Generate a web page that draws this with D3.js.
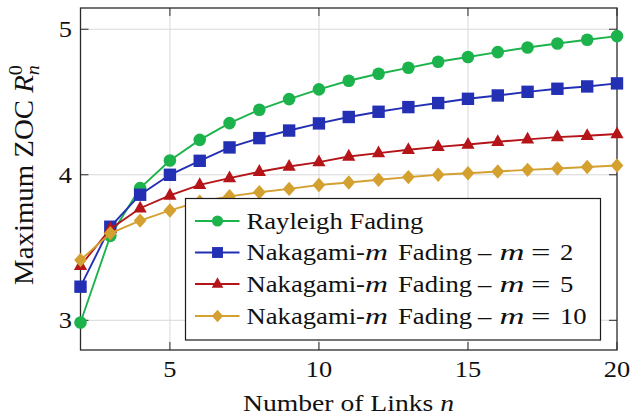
<!DOCTYPE html>
<html>
<head>
<meta charset="utf-8">
<script src="https://cdn.jsdelivr.net/npm/d3@7"></script>
<style>
  html, body { margin: 0; padding: 0; background: #fff; }
  svg { display: block; }
</style>
</head>
<body>
<svg id="chart" width="638" height="416"></svg>
<script>
// ---------- data ----------
const links = [2, 3, 4, 5, 6, 7, 8, 9, 10, 11, 12, 13, 14, 15, 16, 17, 18, 19, 20];
const rayleigh = [2.985, 3.58, 3.908, 4.098, 4.24, 4.355, 4.447, 4.52, 4.587, 4.646, 4.694, 4.735, 4.777, 4.809, 4.843, 4.875, 4.902, 4.928, 4.953];
const nakagami2 = [3.231, 3.643, 3.863, 4.0, 4.096, 4.188, 4.252, 4.304, 4.353, 4.397, 4.433, 4.465, 4.493, 4.522, 4.545, 4.57, 4.591, 4.607, 4.628];
const nakagami5 = [3.375, 3.628, 3.77, 3.858, 3.931, 3.977, 4.021, 4.057, 4.087, 4.126, 4.149, 4.172, 4.192, 4.208, 4.227, 4.243, 4.259, 4.268, 4.28];
const nakagami10 = [3.414, 3.598, 3.685, 3.755, 3.815, 3.852, 3.88, 3.903, 3.93, 3.947, 3.966, 3.984, 4.0, 4.011, 4.023, 4.034, 4.043, 4.053, 4.064];
const xTicks = [5, 10, 15, 20];
const yTicks = [3, 4, 5];
const seriesM = [null, "2", "5", "10"];

// ---------- layout ----------
const FONT = "Liberation Serif";
const svg = d3.select("#chart");
const L = 80.5, R = 617, T = 8, B = 350;
const x = d3.scaleLinear().domain([2, 20]).range([L, R]);
const y = d3.scaleLinear().domain([2.796, 5.146]).range([B, T]);

const colors = ["#1db34c", "#2330b4", "#b51419", "#d4a030"];
const markers = ["circle", "square", "triangle", "diamond"];
const seriesData = [rayleigh, nakagami2, nakagami5, nakagami10];

function markerPath(type) {
  switch (type) {
    case "circle": return d3.symbol(d3.symbolCircle, Math.PI * 6.3 * 6.3)();
    case "square": return "M-6.2,-6.2H6.2V6.2H-6.2Z";
    case "triangle": return "M0,-7.6L6.6,4.2L-6.6,4.2Z";
    case "diamond": return "M0,-7.2L6.4,0L0,7.2L-6.4,0Z";
  }
}
function txt(parent) {
  return parent.append("text").attr("font-family", FONT).attr("fill", "#111");
}

// grid
const grid = svg.append("g");
grid.selectAll("line.gx").data(xTicks.filter(v => v < 20)).join("line")
  .attr("x1", d => x(d)).attr("x2", d => x(d)).attr("y1", T).attr("y2", B)
  .attr("stroke", "#d8d8d8").attr("stroke-width", 1);
grid.selectAll("line.gy").data(yTicks).join("line")
  .attr("x1", L).attr("x2", R).attr("y1", d => y(d)).attr("y2", d => y(d))
  .attr("stroke", "#d8d8d8").attr("stroke-width", 1);

// axes (ticks inside, all four sides)
const tl = 8;
const ax = svg.append("g").attr("stroke", "#2a2a2a").attr("stroke-width", 1);
xTicks.forEach(v => {
  ax.append("line").attr("x1", x(v)).attr("x2", x(v)).attr("y1", B).attr("y2", B - tl);
  ax.append("line").attr("x1", x(v)).attr("x2", x(v)).attr("y1", T).attr("y2", T + tl);
});
yTicks.forEach(v => {
  ax.append("line").attr("x1", L).attr("x2", L + tl).attr("y1", y(v)).attr("y2", y(v));
  ax.append("line").attr("x1", R).attr("x2", R - tl).attr("y1", y(v)).attr("y2", y(v));
});
svg.append("rect").attr("x", L).attr("y", T).attr("width", R - L).attr("height", B - T)
  .attr("fill", "none").attr("stroke", "#2a2a2a").attr("stroke-width", 1.3);

// tick labels
const tickFont = 24, tickSx = 1.1;
xTicks.forEach(v => {
  txt(svg).attr("transform", `translate(${x(v)},377) scale(${tickSx},1)`)
    .attr("text-anchor", "middle").attr("font-size", tickFont).text(v);
});
yTicks.forEach(v => {
  txt(svg).attr("transform", `translate(72,${y(v) + 8}) scale(${tickSx},1)`)
    .attr("text-anchor", "end").attr("font-size", tickFont).text(v);
});

// x axis label
const xl = txt(svg).attr("text-anchor", "middle").attr("font-size", 23);
xl.append("tspan").text("Number of Links ");
xl.append("tspan").attr("font-style", "italic").text("n");
{
  const w = xl.node().getComputedTextLength();
  xl.attr("transform", `translate(348.5,411) scale(${211 / w},1)`);
}

// y axis label
const yl = txt(svg).attr("text-anchor", "middle").attr("font-size", 27);
yl.append("tspan").text("Maximum ZOC ");
yl.append("tspan").attr("font-style", "italic").text("R");
yl.append("tspan").attr("font-size", 19).attr("dy", -11).text("0");
yl.append("tspan").attr("font-size", 19).attr("font-style", "italic").attr("dx", -9.5).attr("dy", 17).text("n");
{
  const w = yl.node().getComputedTextLength() - 9.5;
  yl.attr("transform", `translate(33,175) rotate(-90) scale(${220 / w},1)`);
}

// series
const line = d3.line().x((d, i) => x(links[i])).y(d => y(d));
seriesData.forEach((vals, s) => {
  const g = svg.append("g");
  g.append("path").datum(vals).attr("d", line)
    .attr("fill", "none").attr("stroke", colors[s]).attr("stroke-width", 1.9);
  g.selectAll("path.m").data(vals).join("path").attr("class", "m")
    .attr("d", markerPath(markers[s]))
    .attr("transform", (d, i) => `translate(${x(links[i])},${y(d)})`)
    .attr("fill", colors[s]);
});

// legend
const lg = svg.append("g");
lg.append("rect").attr("x", 185.5).attr("y", 198.5).attr("width", 415).attr("height", 141.5)
  .attr("fill", "#fff").attr("stroke", "#1a1a1a").attr("stroke-width", 1.2);
const rowBase = [228.5, 260, 291.5, 323.5];
let legendSx = 1.1;
function piece(px, py, str, opts = {}) {
  const t = txt(lg).attr("font-size", opts.fs || 24).text(str);
  if (opts.italic) t.attr("font-style", "italic");
  const k = opts.w ? opts.w / t.node().getComputedTextLength() : legendSx;
  t.attr("transform", `translate(${px},${py}) scale(${k},1)`);
  return t;
}
seriesData.forEach((vals, s) => {
  const cy = rowBase[s] - 7.5;
  const yb = rowBase[s];
  lg.append("line").attr("x1", 195).attr("x2", 239.5).attr("y1", cy).attr("y2", cy)
    .attr("stroke", colors[s]).attr("stroke-width", 1.9);
  lg.append("path").attr("d", markerPath(markers[s]))
    .attr("transform", `translate(217.5,${cy}) scale(0.88)`).attr("fill", colors[s]);
  if (s === 0) {
    const t = piece(246.5, yb, "Rayleigh Fading", { w: 177 });
    legendSx = 177 / t.node().getComputedTextLength();
  } else {
    piece(246.5, yb, "Nakagami-");
    piece(365, yb, "m", { italic: true, w: 23 });
    piece(398, yb, "Fading");
    piece(478, yb, "\u2013");
    piece(499.5, yb, "m", { italic: true, w: 25 });
    piece(531, yb, "=", { w: 19.5 });
    piece(560, yb, seriesM[s]);
  }
});
</script>
</body>
</html>
